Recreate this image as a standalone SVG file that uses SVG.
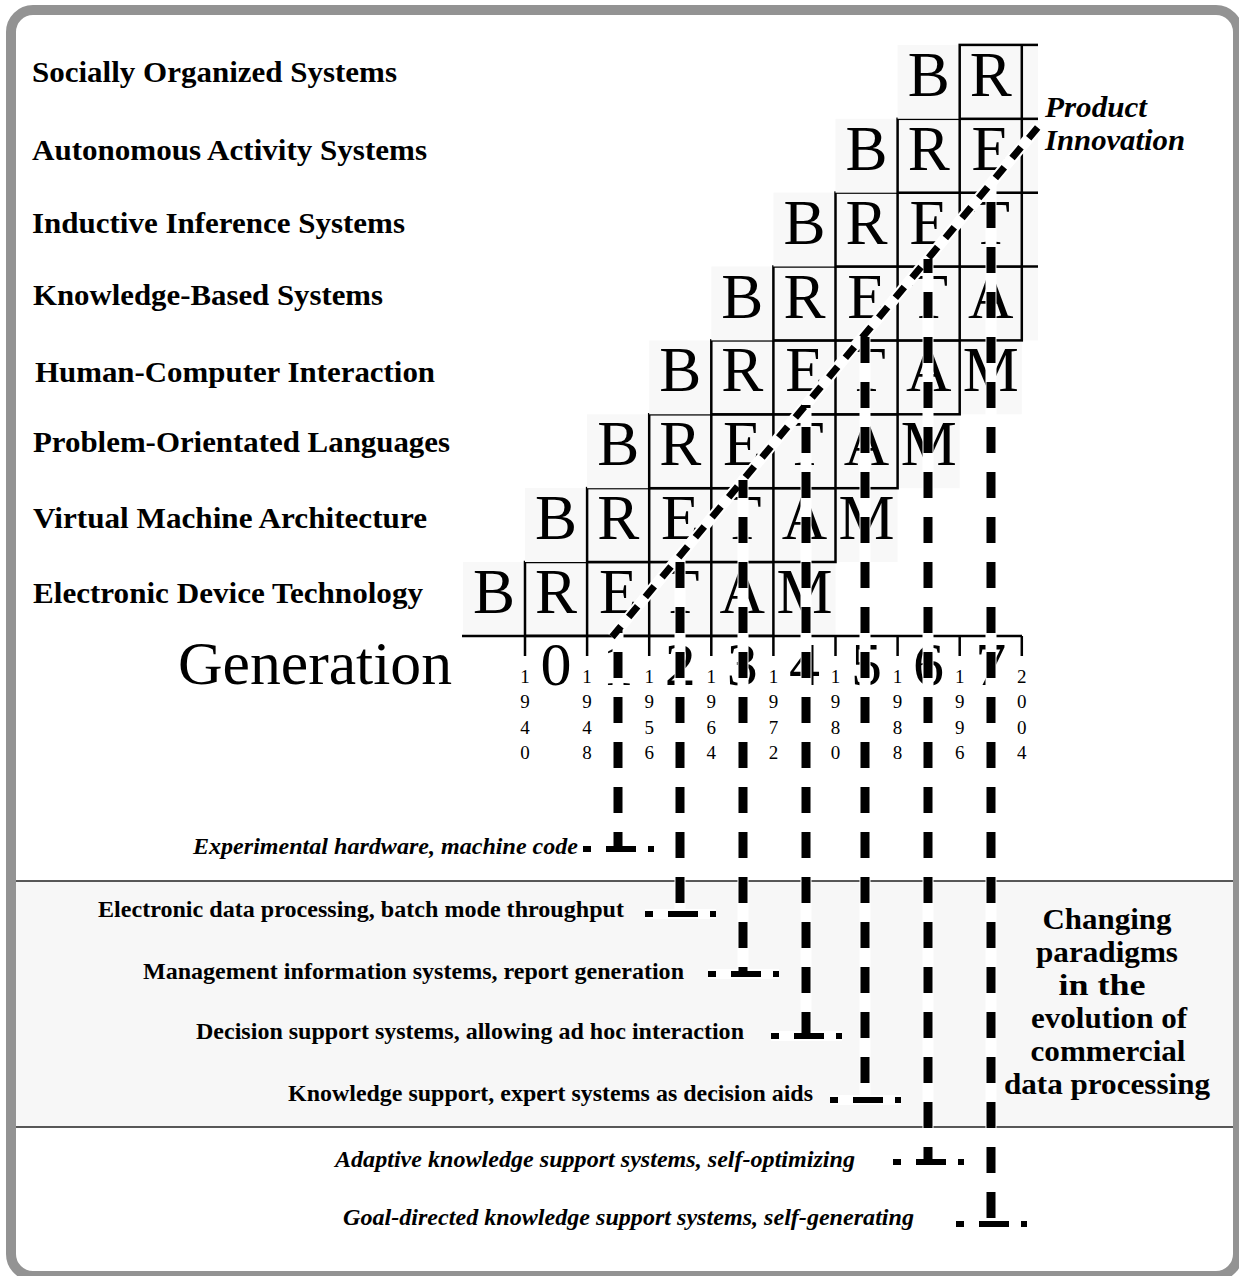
<svg xmlns="http://www.w3.org/2000/svg" width="1239" height="1276" viewBox="0 0 1239 1276">
<style>
.lbl{font-family:"Liberation Serif","Times New Roman",serif;font-weight:bold;font-size:30px;fill:#000}
.sub{font-family:"Liberation Serif","Times New Roman",serif;font-weight:bold;font-size:23px;fill:#000}
.it{font-style:italic}
.big{font-family:"Liberation Serif","Times New Roman",serif;font-size:63px;fill:#000;text-anchor:middle}
.gen{font-family:"Liberation Serif","Times New Roman",serif;font-size:62px;fill:#000}
.yr{font-family:"Liberation Serif","Times New Roman",serif;font-size:19px;fill:#000;text-anchor:middle}
.cell{fill:#f8f8f8;stroke:none}
.grid{fill:none;stroke:#000;stroke-width:2.5}
.halo{fill:none;stroke:#fff;stroke-width:11;stroke-linecap:butt}
.dashv{fill:none;stroke:#000;stroke-width:9;stroke-dasharray:26 19}
.dashd{fill:none;stroke:#000;stroke-width:7;stroke-dasharray:14 12}
.haloh{fill:none;stroke:#fff;stroke-width:10}
.dashh{fill:none;stroke:#000;stroke-width:6;stroke-dasharray:8 15 30 12 6}
.ctr{text-anchor:middle}
</style>
<defs>
<clipPath id="gridclip"><rect x="0" y="0" width="1038" height="1276"/></clipPath>
</defs>

<rect id="frame" x="11" y="10" width="1227" height="1266" rx="22" fill="#fff" stroke="#939393" stroke-width="10"/>

<g id="band">
<rect x="16" y="881" width="1217" height="246" fill="#f7f7f7"/>
<line x1="16" y1="881" x2="1233" y2="881" stroke="#222" stroke-width="1.5"/>
<line x1="16" y1="1127" x2="1233" y2="1127" stroke="#222" stroke-width="1.5"/>
</g>

<g id="layer-labels">
<text class="lbl" x="32" y="82" textLength="365" lengthAdjust="spacingAndGlyphs">Socially Organized Systems</text>
<text class="lbl" x="32" y="160" textLength="395" lengthAdjust="spacingAndGlyphs">Autonomous Activity Systems</text>
<text class="lbl" x="32" y="233" textLength="373" lengthAdjust="spacingAndGlyphs">Inductive Inference Systems</text>
<text class="lbl" x="33" y="305" textLength="350" lengthAdjust="spacingAndGlyphs">Knowledge-Based Systems</text>
<text class="lbl" x="35" y="382" textLength="400" lengthAdjust="spacingAndGlyphs">Human-Computer Interaction</text>
<text class="lbl" x="33" y="452" textLength="417" lengthAdjust="spacingAndGlyphs">Problem-Orientated Languages</text>
<text class="lbl" x="33" y="528" textLength="394" lengthAdjust="spacingAndGlyphs">Virtual Machine Architecture</text>
<text class="lbl" x="33" y="603" textLength="390" lengthAdjust="spacingAndGlyphs">Electronic Device Technology</text>
</g>

<g id="grid" clip-path="url(#gridclip)">
<g id="row-0" transform="translate(462.9,562)">
<rect class="cell" x="0" y="0" width="372.6" height="73.9"/>
<rect class="grid" x="62.1" y="0" width="248.4" height="73.9"/>
<path class="grid" d="M124.2,0V73.9M186.3,0V73.9M248.4,0V73.9"/>
<text class="big" x="31.05" y="51">B</text><text class="big" x="93.15" y="51">R</text><text class="big" x="155.25" y="51">E</text><text class="big" x="217.35" y="51">T</text><text class="big" x="279.45" y="51">A</text><text class="big" x="341.55" y="51">M</text>
</g>
<g id="row-1" transform="translate(525,488.1)">
<rect class="cell" x="0" y="0" width="372.6" height="73.9"/>
<rect class="grid" x="62.1" y="0" width="248.4" height="73.9"/>
<path class="grid" d="M124.2,0V73.9M186.3,0V73.9M248.4,0V73.9"/>
<text class="big" x="31.05" y="51">B</text><text class="big" x="93.15" y="51">R</text><text class="big" x="155.25" y="51">E</text><text class="big" x="217.35" y="51">T</text><text class="big" x="279.45" y="51">A</text><text class="big" x="341.55" y="51">M</text>
</g>
<g id="row-2" transform="translate(587.1,414.3)">
<rect class="cell" x="0" y="0" width="372.6" height="73.9"/>
<rect class="grid" x="62.1" y="0" width="248.4" height="73.9"/>
<path class="grid" d="M124.2,0V73.9M186.3,0V73.9M248.4,0V73.9"/>
<text class="big" x="31.05" y="51">B</text><text class="big" x="93.15" y="51">R</text><text class="big" x="155.25" y="51">E</text><text class="big" x="217.35" y="51">T</text><text class="big" x="279.45" y="51">A</text><text class="big" x="341.55" y="51">M</text>
</g>
<g id="row-3" transform="translate(649.2,340.4)">
<rect class="cell" x="0" y="0" width="372.6" height="73.9"/>
<rect class="grid" x="62.1" y="0" width="248.4" height="73.9"/>
<path class="grid" d="M124.2,0V73.9M186.3,0V73.9M248.4,0V73.9"/>
<text class="big" x="31.05" y="51">B</text><text class="big" x="93.15" y="51">R</text><text class="big" x="155.25" y="51">E</text><text class="big" x="217.35" y="51">T</text><text class="big" x="279.45" y="51">A</text><text class="big" x="341.55" y="51">M</text>
</g>
<g id="row-4" transform="translate(711.3,266.5)">
<rect class="cell" x="0" y="0" width="372.6" height="73.9"/>
<rect class="grid" x="62.1" y="0" width="248.4" height="73.9"/>
<path class="grid" d="M124.2,0V73.9M186.3,0V73.9M248.4,0V73.9"/>
<text class="big" x="31.05" y="51">B</text><text class="big" x="93.15" y="51">R</text><text class="big" x="155.25" y="51">E</text><text class="big" x="217.35" y="51">T</text><text class="big" x="279.45" y="51">A</text>
</g>
<g id="row-5" transform="translate(773.4,192.6)">
<rect class="cell" x="0" y="0" width="372.6" height="73.9"/>
<rect class="grid" x="62.1" y="0" width="248.4" height="73.9"/>
<path class="grid" d="M124.2,0V73.9M186.3,0V73.9M248.4,0V73.9"/>
<text class="big" x="31.05" y="51">B</text><text class="big" x="93.15" y="51">R</text><text class="big" x="155.25" y="51">E</text><text class="big" x="217.35" y="51">T</text>
</g>
<g id="row-6" transform="translate(835.5,118.8)">
<rect class="cell" x="0" y="0" width="372.6" height="73.9"/>
<rect class="grid" x="62.1" y="0" width="248.4" height="73.9"/>
<path class="grid" d="M124.2,0V73.9M186.3,0V73.9M248.4,0V73.9"/>
<text class="big" x="31.05" y="51">B</text><text class="big" x="93.15" y="51">R</text><text class="big" x="155.25" y="51">E</text>
</g>
<g id="row-7" transform="translate(897.6,44.9)">
<rect class="cell" x="0" y="0" width="372.6" height="73.9"/>
<rect class="grid" x="62.1" y="0" width="248.4" height="73.9"/>
<path class="grid" d="M124.2,0V73.9M186.3,0V73.9M248.4,0V73.9"/>
<text class="big" x="31.05" y="51">B</text><text class="big" x="93.15" y="51">R</text>
</g>
</g>

<g id="axis">
<path class="grid" d="M462,636H1022M525,636V656M587.1,636V656M649.2,636V656M711.3,636V656M773.4,636V656M835.5,636V656M897.6,636V656M959.7,636V656M1021.8,636V656"/>
<text class="gen" x="178" y="684" textLength="274" lengthAdjust="spacingAndGlyphs">Generation</text>
<g class="gen" text-anchor="middle">
<text x="556" y="685">0</text><text x="618.1" y="685">1</text><text x="680.2" y="685">2</text><text x="742.3" y="685">3</text><text x="804.4" y="685">4</text><text x="866.5" y="685">5</text><text x="928.6" y="685">6</text><text x="990.7" y="685">7</text>
</g>
<g id="years">
<text class="yr" x="525" y="683">1</text><text class="yr" x="525" y="708">9</text><text class="yr" x="525" y="734">4</text><text class="yr" x="525" y="759">0</text>
<text class="yr" x="587.1" y="683">1</text><text class="yr" x="587.1" y="708">9</text><text class="yr" x="587.1" y="734">4</text><text class="yr" x="587.1" y="759">8</text>
<text class="yr" x="649.2" y="683">1</text><text class="yr" x="649.2" y="708">9</text><text class="yr" x="649.2" y="734">5</text><text class="yr" x="649.2" y="759">6</text>
<text class="yr" x="711.3" y="683">1</text><text class="yr" x="711.3" y="708">9</text><text class="yr" x="711.3" y="734">6</text><text class="yr" x="711.3" y="759">4</text>
<text class="yr" x="773.4" y="683">1</text><text class="yr" x="773.4" y="708">9</text><text class="yr" x="773.4" y="734">7</text><text class="yr" x="773.4" y="759">2</text>
<text class="yr" x="835.5" y="683">1</text><text class="yr" x="835.5" y="708">9</text><text class="yr" x="835.5" y="734">8</text><text class="yr" x="835.5" y="759">0</text>
<text class="yr" x="897.6" y="683">1</text><text class="yr" x="897.6" y="708">9</text><text class="yr" x="897.6" y="734">8</text><text class="yr" x="897.6" y="759">8</text>
<text class="yr" x="959.7" y="683">1</text><text class="yr" x="959.7" y="708">9</text><text class="yr" x="959.7" y="734">9</text><text class="yr" x="959.7" y="759">6</text>
<text class="yr" x="1021.8" y="683">2</text><text class="yr" x="1021.8" y="708">0</text><text class="yr" x="1021.8" y="734">0</text><text class="yr" x="1021.8" y="759">4</text>
</g>
</g>

<g id="product-innovation">
<text class="lbl it" x="1045" y="117" textLength="102" lengthAdjust="spacingAndGlyphs">Product</text>
<text class="lbl it" x="1045" y="150" textLength="140" lengthAdjust="spacingAndGlyphs">Innovation</text>
</g>

<g id="paradigm-labels">
<text id="p1" class="sub it" x="193" y="854" textLength="385" lengthAdjust="spacingAndGlyphs">Experimental hardware, machine code</text>
<text id="p2" class="sub" x="98" y="917" textLength="526" lengthAdjust="spacingAndGlyphs">Electronic data processing, batch mode throughput</text>
<text id="p3" class="sub" x="143" y="979" textLength="541" lengthAdjust="spacingAndGlyphs">Management information systems, report generation</text>
<text id="p4" class="sub" x="196" y="1039" textLength="548" lengthAdjust="spacingAndGlyphs">Decision support systems, allowing ad hoc interaction</text>
<text id="p5" class="sub" x="288" y="1101" textLength="525" lengthAdjust="spacingAndGlyphs">Knowledge support, expert systems as decision aids</text>
<text id="p6" class="sub it" x="335" y="1167" textLength="520" lengthAdjust="spacingAndGlyphs">Adaptive knowledge support systems, self-optimizing</text>
<text id="p7" class="sub it" x="343" y="1225" textLength="571" lengthAdjust="spacingAndGlyphs">Goal-directed knowledge support systems, self-generating</text>
</g>

<g id="caption" class="lbl ctr">
<text x="1107" y="929" textLength="129" lengthAdjust="spacingAndGlyphs">Changing</text>
<text x="1107" y="962" textLength="142" lengthAdjust="spacingAndGlyphs">paradigms</text>
<text x="1102" y="995" textLength="87" lengthAdjust="spacingAndGlyphs">in the</text>
<text x="1109" y="1028" textLength="156" lengthAdjust="spacingAndGlyphs">evolution of</text>
<text x="1108" y="1061" textLength="155" lengthAdjust="spacingAndGlyphs">commercial</text>
<text x="1107" y="1094" textLength="206" lengthAdjust="spacingAndGlyphs">data processing</text>
</g>

<g id="connectors">
<path class="halo" d="M612,637L1040,124.6"/>
<path class="halo" d="M618,630V849M680,556V914M743,480V974M806,405V1036M865,334V1100M928,259V1162M991,183V1224"/>
<path class="haloh" d="M583,849H654M645,914H716M708,974H779M771,1036H842M830,1100H901M893,1162H964M956,1224H1027"/>
<path class="dashd" d="M612,637L1040,124.6"/>
<path class="dashv" d="M618,630V849" stroke-dashoffset="23"/>
<path class="dashv" d="M680,556V914" stroke-dashoffset="39"/>
<path class="dashv" d="M743,480V974" stroke-dashoffset="8"/>
<path class="dashv" d="M806,405V1036" stroke-dashoffset="23"/>
<path class="dashv" d="M865,334V1100" stroke-dashoffset="42"/>
<path class="dashv" d="M928,259V1162" stroke-dashoffset="12"/>
<path class="dashv" d="M991,183V1224" stroke-dashoffset="26"/>
<path class="dashh" d="M583,849H654M645,914H716M708,974H779M771,1036H842M830,1100H901M893,1162H964M956,1224H1027"/>
</g>
</svg>
